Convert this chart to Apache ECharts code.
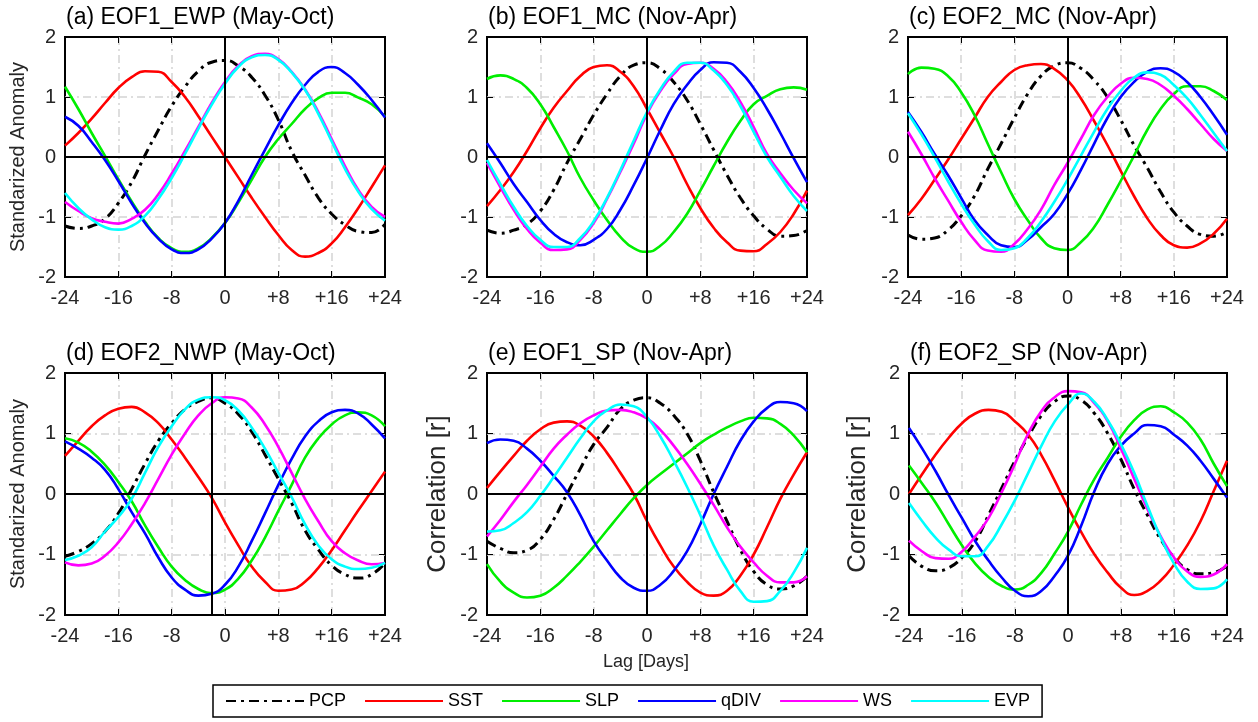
<!DOCTYPE html>
<html>
<head>
<meta charset="utf-8">
<script src="https://cdn.jsdelivr.net/npm/echarts@6/dist/echarts.min.js"></script>
<style>
html,body{margin:0;padding:0;background:#fff;}
#chart{width:1258px;height:722px;}
</style>
</head>
<body>
<div id="chart"></div>
<script>
// ---------- data ----------
const lags = [-24,-22,-20,-18,-16,-14,-12,-10,-8,-6,-4,-2,0,2,4,6,8,10,12,14,16,18,20,22,24];
const seriesNames = ['PCP','SST','SLP','qDIV','WS','EVP'];
const panelTitles = ['(a) EOF1_EWP (May-Oct)','(b) EOF1_MC (Nov-Apr)','(c) EOF2_MC (Nov-Apr)',
                     '(d) EOF2_NWP (May-Oct)','(e) EOF1_SP (Nov-Apr)','(f) EOF2_SP (Nov-Apr)'];
const yAxisNames = ['Standarized Anomaly','','','Standarized Anomaly','Correlation [r]','Correlation [r]'];
const xAxisName = 'Lag [Days]';
const zeroLagLine = [0,0,0,-2,0,0];

// (a) EOF1_EWP
const a_PCP  = [-1.15,-1.19,-1.15,-1.03,-0.77,-0.42,0.03,0.45,0.85,1.17,1.43,1.58,1.61,1.52,1.33,1.03,0.62,0.1,-0.3,-0.68,-0.95,-1.13,-1.24,-1.26,-1.12];
const a_SST  = [0.19,0.4,0.64,0.9,1.15,1.33,1.43,1.42,1.25,1.0,0.68,0.34,0.0,-0.34,-0.68,-1.0,-1.3,-1.55,-1.66,-1.6,-1.44,-1.17,-0.85,-0.5,-0.14];
const a_SLP  = [1.17,0.8,0.4,0.02,-0.37,-0.74,-1.08,-1.35,-1.52,-1.58,-1.52,-1.35,-1.1,-0.76,-0.38,0.0,0.3,0.55,0.8,0.98,1.07,1.07,0.99,0.88,0.67];
const a_qDIV = [0.67,0.52,0.25,-0.05,-0.4,-0.77,-1.1,-1.36,-1.54,-1.6,-1.54,-1.36,-1.1,-0.73,-0.3,0.12,0.53,0.9,1.2,1.42,1.5,1.4,1.2,0.95,0.66];
const a_WS   = [-0.75,-0.9,-1.02,-1.08,-1.11,-1.03,-0.88,-0.62,-0.28,0.1,0.5,0.9,1.25,1.52,1.68,1.72,1.63,1.42,1.13,0.75,0.3,-0.15,-0.55,-0.83,-1.0];
const a_EVP  = [-0.6,-0.85,-1.04,-1.17,-1.21,-1.15,-0.98,-0.7,-0.35,0.05,0.47,0.87,1.22,1.5,1.66,1.7,1.62,1.41,1.12,0.72,0.26,-0.2,-0.58,-0.87,-1.06];
// (b) EOF1_MC
const b_PCP  = [-1.22,-1.27,-1.22,-1.12,-0.9,-0.55,-0.1,0.3,0.7,1.05,1.35,1.53,1.57,1.47,1.25,0.95,0.55,0.12,-0.3,-0.68,-0.98,-1.2,-1.32,-1.31,-1.22];
const b_SST  = [-0.82,-0.55,-0.25,0.1,0.48,0.82,1.1,1.35,1.5,1.53,1.42,1.18,0.8,0.4,0.0,-0.45,-0.85,-1.18,-1.42,-1.56,-1.57,-1.45,-1.25,-0.95,-0.56];
const b_SLP  = [1.3,1.36,1.3,1.15,0.88,0.5,0.1,-0.35,-0.72,-1.05,-1.33,-1.52,-1.58,-1.48,-1.25,-0.95,-0.56,-0.15,0.25,0.6,0.88,1.02,1.13,1.16,1.12];
const b_qDIV = [0.23,-0.1,-0.45,-0.75,-1.05,-1.28,-1.42,-1.47,-1.38,-1.2,-0.88,-0.47,-0.02,0.45,0.88,1.2,1.45,1.58,1.57,1.42,1.15,0.8,0.4,-0.02,-0.42];
const b_WS   = [-0.1,-0.5,-0.88,-1.2,-1.43,-1.55,-1.54,-1.38,-1.1,-0.7,-0.25,0.22,0.72,1.1,1.38,1.55,1.57,1.47,1.25,0.92,0.5,0.05,-0.27,-0.55,-0.77];
const b_EVP  = [-0.05,-0.45,-0.83,-1.15,-1.38,-1.5,-1.5,-1.35,-1.07,-0.68,-0.22,0.27,0.75,1.13,1.42,1.57,1.57,1.44,1.2,0.85,0.42,0.0,-0.33,-0.65,-0.9];
// (c) EOF2_MC
const c_PCP  = [-1.3,-1.37,-1.35,-1.22,-0.98,-0.65,-0.2,0.22,0.65,1.05,1.35,1.52,1.57,1.48,1.28,1.0,0.62,0.2,-0.18,-0.58,-0.92,-1.15,-1.29,-1.32,-1.25];
const c_SST  = [-0.97,-0.7,-0.38,-0.05,0.3,0.65,1.0,1.25,1.45,1.53,1.55,1.47,1.28,0.98,0.6,0.2,-0.23,-0.65,-1.02,-1.3,-1.47,-1.51,-1.44,-1.28,-1.03];
const c_SLP  = [1.38,1.49,1.47,1.35,1.08,0.7,0.22,-0.25,-0.7,-1.05,-1.35,-1.52,-1.55,-1.42,-1.17,-0.8,-0.4,0.02,0.45,0.8,1.05,1.18,1.18,1.1,0.95];
const c_qDIV = [0.75,0.42,0.05,-0.3,-0.68,-1.05,-1.3,-1.47,-1.5,-1.38,-1.17,-0.95,-0.62,-0.22,0.22,0.65,1.0,1.25,1.42,1.48,1.42,1.25,1.0,0.7,0.37];
const c_WS   = [0.42,0.05,-0.35,-0.72,-1.08,-1.38,-1.56,-1.58,-1.45,-1.2,-0.88,-0.47,-0.1,0.3,0.7,1.0,1.22,1.32,1.3,1.2,1.02,0.8,0.55,0.3,0.1];
const c_EVP  = [0.73,0.38,0.0,-0.4,-0.78,-1.12,-1.4,-1.55,-1.52,-1.35,-1.08,-0.75,-0.38,0.02,0.42,0.8,1.1,1.32,1.41,1.37,1.2,0.98,0.7,0.4,0.1];
// (d) EOF2_NWP
const d_PCP  = [-1.03,-0.95,-0.82,-0.62,-0.32,0.08,0.5,0.88,1.17,1.4,1.53,1.59,1.5,1.32,1.03,0.65,0.25,-0.15,-0.6,-0.92,-1.18,-1.33,-1.39,-1.33,-1.14];
const d_SST  = [0.63,0.88,1.12,1.3,1.41,1.44,1.35,1.17,0.9,0.6,0.28,-0.06,-0.47,-0.85,-1.2,-1.45,-1.6,-1.58,-1.45,-1.22,-0.93,-0.6,-0.27,0.05,0.37];
const d_SLP  = [0.92,0.85,0.7,0.48,0.2,-0.12,-0.52,-0.88,-1.2,-1.42,-1.57,-1.64,-1.58,-1.4,-1.1,-0.72,-0.28,0.15,0.6,0.92,1.15,1.3,1.35,1.3,1.12];
const d_qDIV = [0.87,0.75,0.6,0.4,0.08,-0.3,-0.65,-1.05,-1.38,-1.58,-1.68,-1.65,-1.5,-1.2,-0.78,-0.32,0.15,0.58,0.95,1.2,1.35,1.39,1.33,1.15,0.92];
const d_WS   = [-1.13,-1.18,-1.15,-1.02,-0.8,-0.5,-0.15,0.25,0.65,1.0,1.3,1.5,1.6,1.58,1.43,1.15,0.78,0.35,-0.08,-0.45,-0.78,-0.98,-1.1,-1.16,-1.14];
const d_EVP  = [-1.09,-1.02,-0.88,-0.62,-0.38,-0.08,0.35,0.78,1.12,1.4,1.56,1.6,1.55,1.38,1.1,0.75,0.35,-0.05,-0.5,-0.85,-1.08,-1.2,-1.24,-1.22,-1.14];
// (e) EOF1_SP
const e_PCP  = [-0.78,-0.9,-0.97,-0.93,-0.75,-0.42,0.0,0.42,0.82,1.1,1.4,1.55,1.59,1.5,1.3,1.0,0.55,0.03,-0.45,-0.92,-1.28,-1.5,-1.57,-1.52,-1.36];
const e_SST  = [0.1,0.37,0.63,0.88,1.07,1.18,1.2,1.13,0.95,0.68,0.35,0.0,-0.45,-0.85,-1.2,-1.45,-1.63,-1.68,-1.6,-1.35,-1.0,-0.55,-0.08,0.32,0.69];
const e_SLP  = [-1.16,-1.45,-1.63,-1.71,-1.68,-1.55,-1.35,-1.12,-0.87,-0.6,-0.33,-0.07,0.15,0.33,0.5,0.67,0.84,0.98,1.1,1.2,1.26,1.25,1.16,0.97,0.69];
const e_qDIV = [0.84,0.9,0.88,0.75,0.55,0.3,0.03,-0.35,-0.78,-1.1,-1.38,-1.55,-1.6,-1.5,-1.27,-0.95,-0.5,0.0,0.45,0.88,1.2,1.42,1.52,1.5,1.37];
const e_WS   = [-0.7,-0.43,-0.13,0.15,0.45,0.75,0.98,1.17,1.3,1.38,1.39,1.35,1.25,1.06,0.8,0.5,0.17,-0.18,-0.55,-0.87,-1.13,-1.35,-1.46,-1.46,-1.36];
const e_EVP  = [-0.62,-0.6,-0.48,-0.3,-0.03,0.28,0.6,0.92,1.2,1.38,1.48,1.45,1.27,0.95,0.55,0.12,-0.35,-0.85,-1.25,-1.6,-1.78,-1.77,-1.6,-1.3,-0.89];
// (f) EOF2_SP
const f_PCP  = [-1.02,-1.2,-1.27,-1.22,-1.05,-0.78,-0.35,0.1,0.55,0.95,1.3,1.53,1.62,1.55,1.33,1.0,0.57,0.08,-0.35,-0.75,-1.05,-1.25,-1.32,-1.3,-1.19];
const f_SST  = [0.0,0.33,0.65,0.93,1.17,1.33,1.39,1.36,1.2,0.98,0.64,0.22,-0.22,-0.63,-1.0,-1.3,-1.55,-1.67,-1.6,-1.43,-1.17,-0.85,-0.45,0.05,0.55];
const f_SLP  = [0.47,0.17,-0.14,-0.5,-0.85,-1.15,-1.37,-1.52,-1.58,-1.5,-1.3,-0.98,-0.62,-0.17,0.25,0.6,0.95,1.22,1.4,1.45,1.35,1.18,0.9,0.5,0.13];
const f_qDIV = [1.09,0.75,0.38,-0.02,-0.4,-0.78,-1.1,-1.38,-1.6,-1.69,-1.6,-1.35,-1.02,-0.52,0.05,0.5,0.8,1.0,1.14,1.12,0.98,0.8,0.55,0.25,-0.06];
const f_WS   = [-0.77,-0.95,-1.06,-1.07,-0.95,-0.7,-0.4,0.03,0.5,1.0,1.37,1.6,1.7,1.68,1.5,1.2,0.75,0.25,-0.25,-0.7,-1.05,-1.28,-1.37,-1.33,-1.16];
const f_EVP  = [-0.15,-0.45,-0.72,-0.92,-1.03,-1.03,-0.85,-0.5,-0.1,0.35,0.8,1.2,1.48,1.66,1.52,1.22,0.82,0.35,-0.2,-0.72,-1.15,-1.45,-1.57,-1.56,-1.41];

const panels = [
  [a_PCP,a_SST,a_SLP,a_qDIV,a_WS,a_EVP],
  [b_PCP,b_SST,b_SLP,b_qDIV,b_WS,b_EVP],
  [c_PCP,c_SST,c_SLP,c_qDIV,c_WS,c_EVP],
  [d_PCP,d_SST,d_SLP,d_qDIV,d_WS,d_EVP],
  [e_PCP,e_SST,e_SLP,e_qDIV,e_WS,e_EVP],
  [f_PCP,f_SST,f_SLP,f_qDIV,f_WS,f_EVP]
];

// ---------- layout & style ----------
const FONT = '"Liberation Sans", Arial, Helvetica, sans-serif';
const gridBoxes = [
  {left:65,  top:37,  width:320, height:240},
  {left:487, top:37,  width:320, height:240},
  {left:908, top:37,  width:319, height:240},
  {left:65,  top:373, width:320, height:242},
  {left:487, top:373, width:320, height:242},
  {left:909, top:373, width:318, height:242}
];
const colors = ['#000000','#ff0000','#00ee00','#0000ff','#ff00ff','#00ffff'];
const yNameSize = [20,20,20,20,26,26];
const yNameGap  = [37,0,0,37,36,38];
const gridLineStyle = {color:'#d4d4d4', width:1.5, type:[8,4,2,4]};
const tickStyle = {show:true, inside:true, length:6, lineStyle:{color:'#000', width:1}};
const hiddenLine = {show:false, onZero:false};

const grid = [], xAxis = [], yAxis = [], series = [], title = [];
gridBoxes.forEach((g, i) => {
  grid.push(Object.assign({show:true, borderColor:'#000', borderWidth:2, backgroundColor:'#fff'}, g));
  title.push({text: panelTitles[i], left: g.left + 1, top: g.top - 31, padding:0,
    textStyle:{fontFamily:FONT, fontSize:23, fontWeight:'normal', color:'#000'}});
  xAxis.push({type:'value', gridIndex:i, position:'bottom', min:-24, max:24, interval:8,
    axisLine:hiddenLine, axisTick:tickStyle,
    axisLabel:{fontFamily:FONT, fontSize:20, color:'#262626', margin:11,
      formatter: v => v > 0 ? '+' + v : String(v)},
    splitLine:{show:true, showMinLine:false, showMaxLine:false, lineStyle:gridLineStyle}
  });
  yAxis.push({type:'value', gridIndex:i, position:'left', min:-2, max:2, interval:1,
    name: yAxisNames[i], nameLocation:'middle', nameGap: yNameGap[i], nameRotate:90,
    nameTextStyle:{fontFamily:FONT, fontSize:yNameSize[i], color:'#262626'},
    axisLine:hiddenLine, axisTick:tickStyle,
    axisLabel:{fontFamily:FONT, fontSize:20, color:'#262626', margin:9},
    splitLine:{show:true, showMinLine:false, showMaxLine:false, lineStyle:gridLineStyle}
  });
  panels[i].forEach((vals, k) => {
    const s = {
      name: seriesNames[k], type:'line', xAxisIndex:i, yAxisIndex:i,
      data: lags.map((x, j) => [x, vals[j]]),
      smooth: 0.5, showSymbol:false, symbol:'none',
      lineStyle:{color:colors[k], width: k === 0 ? 3 : 2.6, type: k === 0 ? [10,5,3,5] : 'solid'},
      itemStyle:{color:colors[k]},
      silent:true
    };
    if (k === 0) {
      s.markLine = {silent:true, symbol:'none', label:{show:false},
        lineStyle:{color:'#000', width:2, type:'solid'},
        data:[{yAxis:0},{xAxis:zeroLagLine[i]}]};
    }
    series.push(s);
  });
});
// mirror axes for ticks on top and right sides of each box
gridBoxes.forEach((g, i) => {
  xAxis.push({type:'value', gridIndex:i, position:'top', min:-24, max:24, interval:8,
    axisLine:hiddenLine, axisTick:tickStyle, axisLabel:{show:false}, splitLine:{show:false}});
  yAxis.push({type:'value', gridIndex:i, position:'right', min:-2, max:2, interval:1,
    axisLine:hiddenLine, axisTick:tickStyle, axisLabel:{show:false}, splitLine:{show:false}});
});

const chart = echarts.init(document.getElementById('chart'), null, {renderer:'canvas'});
chart.setOption({
  animation:false,
  backgroundColor:'#fff',
  title: title,
  grid: grid, xAxis: xAxis, yAxis: yAxis, series: series,
  legend: {
    data: seriesNames, left:213, top:685, orient:'horizontal',
    itemWidth:78, itemHeight:14, itemGap:18,
    itemStyle:{opacity:0},
    borderColor:'#000', borderWidth:1.5, padding:[7,12,7,12],
    textStyle:{fontFamily:FONT, fontSize:18, color:'#000'},
    selectedMode:false
  },
  graphic: [{type:'text', left: 603, top: 653,
    style:{text: xAxisName, font: '18px ' + FONT, fill:'#262626'}}]
});
</script>
</body>
</html>
